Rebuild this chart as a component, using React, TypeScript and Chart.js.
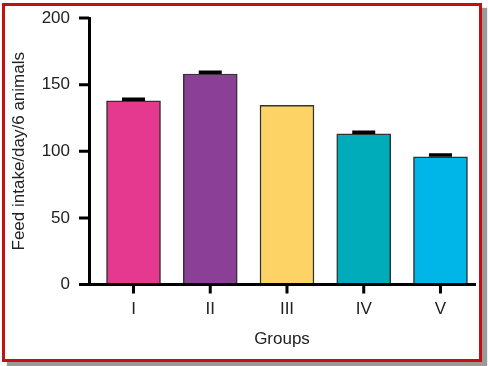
import React, { useEffect, useRef } from "react";
import { Chart, registerables } from "chart.js";

Chart.register(...registerables);

const groups = ["I", "II", "III", "IV", "V"];
const groupPositions = [1, 2, 3, 4, 5];
const feedIntake = [137.8, 158, 134.5, 113, 95.8];
const sem = [1.3, 1.3, 0, 1.3, 1.3];
const barColors = ["#E5398F", "#8C3F97", "#FED365", "#00ACB9", "#00B6E8"];
const yTicks = [0, 50, 100, 150, 200];
const yMin = 0;
const yMax = 200;
const yStep = 50;

const FONT = "'Liberation Sans', Arial, Helvetica, sans-serif";
const Y_TICK_LEN = 10;
const X_TICK_LEN = 9;

const errorBarPlugin = {
  id: "errorBars",
  afterDatasetsDraw(chart: any) {
    const meta = chart.getDatasetMeta(0);
    const y = chart.scales.y;
    const ctx = chart.ctx;
    ctx.save();
    ctx.strokeStyle = "#000";
    ctx.lineWidth = 3.5;
    meta.data.forEach((bar: any, i: number) => {
      const e = sem[i];
      if (!e) return;
      const base = y.getPixelForValue(feedIntake[i]);
      const top = y.getPixelForValue(feedIntake[i] + e);
      ctx.beginPath();
      ctx.moveTo(bar.x, base);
      ctx.lineTo(bar.x, top);
      ctx.moveTo(bar.x - 11.5, top);
      ctx.lineTo(bar.x + 11.5, top);
      ctx.stroke();
    });
    ctx.restore();
  },
};

const tickMarkPlugin = {
  id: "tickMarks",
  afterDraw(chart: any) {
    const { ctx, chartArea } = chart;
    const x = chart.scales.x;
    const y = chart.scales.y;
    ctx.save();
    ctx.strokeStyle = "#000";
    ctx.lineWidth = 3;
    ctx.lineCap = "butt";
    ctx.beginPath();
    yTicks.forEach((v) => {
      const py = y.getPixelForValue(v);
      ctx.moveTo(chartArea.left - Y_TICK_LEN, py);
      ctx.lineTo(chartArea.left, py);
    });
    groupPositions.forEach((v) => {
      const px = x.getPixelForValue(v);
      ctx.moveTo(px, chartArea.bottom);
      ctx.lineTo(px, chartArea.bottom + X_TICK_LEN);
    });
    ctx.stroke();
    ctx.restore();
  },
};

export default function App() {
  const ref = useRef<HTMLCanvasElement | null>(null);

  useEffect(() => {
    if (!ref.current) return;
    const chart = new Chart(ref.current, {
      type: "bar",
      data: {
        datasets: [
          {
            data: groupPositions.map((x, i) => ({ x, y: feedIntake[i] })),
            backgroundColor: barColors,
            borderColor: "#333333",
            borderWidth: 1.5,
            borderSkipped: false,
            barThickness: 54,
          },
        ],
      },
      plugins: [errorBarPlugin, tickMarkPlugin],
      options: {
        responsive: false,
        animation: false,
        devicePixelRatio: 1,
        layout: { padding: { top: 18, right: 13, left: 0, bottom: 0 } },
        plugins: {
          legend: { display: false },
          tooltip: { enabled: false },
        },
        scales: {
          x: {
            type: "linear",
            min: 0.42,
            max: 5.45,
            offset: false,
            afterBuildTicks: (scale: any) => {
              scale.ticks = groupPositions.map((v) => ({ value: v }));
            },
            afterFit: (scale: any) => {
              scale.height = 81.5;
              scale.paddingLeft = 0;
              scale.paddingRight = 0;
            },
            grid: {
              offset: false,
              display: false,
              drawOnChartArea: false,
              drawTicks: false,
            },
            border: { display: true, color: "#000", width: 3, z: 1 },
            ticks: {
              padding: X_TICK_LEN + 6,
              color: "#222",
              font: { family: FONT, size: 17 },
              maxRotation: 0,
              autoSkip: false,
              callback: (value: any) => groups[Number(value) - 1] ?? "",
            },
            title: {
              display: true,
              text: "Groups",
              color: "#222",
              font: { family: FONT, size: 17 },
              padding: { top: 4, bottom: 16.8 },
            },
          },
          y: {
            min: yMin,
            max: yMax,
            afterFit: (scale: any) => {
              scale.width = 89;
              scale.paddingTop = 0;
              scale.paddingBottom = 0;
            },
            grid: {
              display: false,
              drawOnChartArea: false,
              drawTicks: false,
            },
            border: { display: true, color: "#000", width: 3, z: 1 },
            ticks: {
              stepSize: yStep,
              padding: Y_TICK_LEN + 9,
              color: "#222",
              font: { family: FONT, size: 17 },
            },
            title: {
              display: true,
              text: "Feed intake/day/6 animals",
              color: "#222",
              font: { family: FONT, size: 17 },
              padding: { top: 9, bottom: 4 },
            },
          },
        },
      },
    } as any);
    return () => chart.destroy();
  }, []);

  return (
    <div
      style={{
        position: "absolute",
        left: 0,
        top: 0,
        width: 488,
        height: 366,
        background: "#fff",
        overflow: "hidden",
      }}
    >
      <div
        style={{
          position: "absolute",
          left: 2,
          top: 3,
          width: 480,
          height: 359,
          boxSizing: "border-box",
          border: "3px solid #C40F0F",
          background: "#fff",
          boxShadow: "5px 5px 1px #9a9a9a",
        }}
      />
      <canvas
        ref={ref}
        width={488}
        height={366}
        style={{ position: "absolute", left: 0, top: 0, width: 488, height: 366 }}
      />
    </div>
  );
}
